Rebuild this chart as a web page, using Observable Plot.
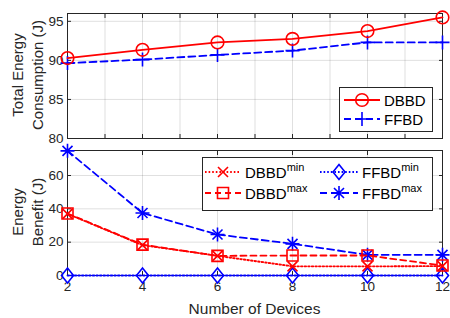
<!DOCTYPE html>
<html><head><meta charset="utf-8">
<script src="https://cdn.jsdelivr.net/npm/d3@7"></script>
<script src="https://cdn.jsdelivr.net/npm/@observablehq/plot@0.6"></script>
<style>
body{margin:0;background:#fff;}
#wrap{position:relative;width:450px;height:318px;font-family:"Liberation Sans",Arial,sans-serif;background:#fff;}
#wrap svg.plt{position:absolute;left:0;}
#overlay{position:absolute;left:0;top:0;pointer-events:none;}
</style></head><body>
<div id="wrap"></div>
<script>
// ---- data ----
const devices = [2, 4, 6, 8, 10, 12];
const dbbdTotal = [90.3, 91.35, 92.3, 92.75, 93.75, 95.5];
const ffbdTotal = [89.65, 90.1, 90.7, 91.25, 92.3, 92.3];
const dbbdMin = [37, 18.2, 11.8, 5.5, 5.5, 5.6];
const dbbdMax = [37.2, 18.5, 11.8, 12, 12, 6];
const ffbdMin = [0, 0, 0, 0, 0, 0];
const ffbdMax = [74.8, 37.5, 24.6, 19, 12.4, 12.4];
const topYTicks = [80, 85, 90, 95];
const botYTicks = [0, 20, 40, 60];
const topXTicks = [2, 3, 4, 5, 6, 7, 8, 9, 10, 11, 12];
const botXTicks = [2, 4, 6, 8, 10, 12];
const yLabelTop = ["Total Energy", "Consumption (J)"];
const yLabelBot = ["Energy", "Benefit (J)"];
const xLabel = "Number of Devices";

const RED = "#ff0000", BLUE = "#0000ff", AX = "#262626";
const DASH = "7,4", DOT = "1.6,2";

// MATLAB-like marker shapes
const sym = {
  circle: {draw(c){ c.moveTo(6.3,0); c.arc(0,0,6.3,0,2*Math.PI); }},
  plus: {draw(c){ c.moveTo(-7,0); c.lineTo(7,0); c.moveTo(0,-7); c.lineTo(0,7); }},
  times: {draw(c){ c.moveTo(-5,-5); c.lineTo(5,5); c.moveTo(-5,5); c.lineTo(5,-5); }},
  square: {draw(c){ c.rect(-5.5,-5.5,11,11); }},
  diamond: {draw(c){ c.moveTo(0,-7.5); c.lineTo(6,0); c.lineTo(0,7.5); c.lineTo(-6,0); c.closePath(); }},
  star: {draw(c){ c.moveTo(-7,0); c.lineTo(7,0); c.moveTo(0,-7); c.lineTo(0,7);
    c.moveTo(-5,-5); c.lineTo(5,5); c.moveTo(-5,5); c.lineTo(5,-5); }}
};

const rows = (ys) => devices.map((d, i) => ({x: d, y: ys[i]}));

function series(ys, color, dash, symbol) {
  const data = rows(ys);
  return [
    Plot.line(data, {x: "x", y: "y", stroke: color, strokeWidth: 1.8, strokeDasharray: dash}),
    Plot.dot(data, {x: "x", y: "y", stroke: color, strokeWidth: 1.6, fill: "none", symbol, r: 6})
  ];
}

function frameMarks(xTicks, yTicks, showXLabels) {
  return [
    Plot.gridX(xTicks, {stroke: AX, strokeOpacity: 0.14, strokeWidth: 1}),
    Plot.gridY(yTicks, {stroke: AX, strokeOpacity: 0.14, strokeWidth: 1}),
    Plot.frame({stroke: AX, strokeWidth: 1}),
    Plot.axisY(yTicks, {anchor: "left", tickSize: -4, tickPadding: 8, label: null, color: AX, fontSize: 13.5}),
    Plot.axisY(yTicks, {anchor: "right", tickSize: -4, tickFormat: () => "", label: null}),
    Plot.axisX(xTicks, {anchor: "bottom", tickSize: -4, tickPadding: 10, label: null, color: AX, fontSize: 13.5,
      tickFormat: showXLabels ? (d => String(d)) : () => ""}),
    Plot.axisX(xTicks, {anchor: "top", tickSize: -4, tickFormat: () => "", label: null})
  ];
}

const common = {
  width: 450, marginLeft: 67, marginRight: 8,
  style: {fontFamily: "'Liberation Sans', Arial, sans-serif", fontSize: "13.5px", color: AX, background: "none"}
};

const topChart = Plot.plot({
  ...common, height: 150, marginTop: 13, marginBottom: 12,
  x: {domain: [2, 12]}, y: {domain: [80, 96]},
  marks: [
    ...frameMarks(topXTicks, topYTicks, false),
    ...series(ffbdTotal, BLUE, DASH, sym.plus),
    ...series(dbbdTotal, RED, null, sym.circle)
  ]
});
const botChart = Plot.plot({
  ...common, height: 178, marginTop: 10, marginBottom: 43,
  x: {domain: [2, 12]}, y: {domain: [0, 75]},
  marks: [
    ...frameMarks(botXTicks, botYTicks, true),
    ...series(ffbdMin, BLUE, DOT, sym.diamond),
    ...series(ffbdMax, BLUE, DASH, sym.star),
    ...series(dbbdMax, RED, "6,4", sym.square),
    ...series(dbbdMin, RED, DOT, sym.times)
  ]
});
topChart.classList.add("plt"); botChart.classList.add("plt");
topChart.style.top = "0px"; botChart.style.top = "140px";
const wrap = document.getElementById("wrap");
wrap.appendChild(botChart); wrap.appendChild(topChart);

// ---- overlay: axis titles and legends ----
const ov = d3.select(wrap).append("svg").attr("id", "overlay").attr("width", 450).attr("height", 318)
  .style("font-family", "'Liberation Sans', Arial, sans-serif");

function yTitle(lines, cy) {
  const g = ov.append("g").attr("transform", `translate(28,${cy}) rotate(-90)`);
  lines.forEach((t, i) => g.append("text").attr("x", 0).attr("y", (i - 0.5) * 20 + 5)
    .attr("text-anchor", "middle").attr("font-size", 15).attr("fill", AX).text(t));
}
yTitle(yLabelTop, 75);
yTitle(yLabelBot, 212);
ov.append("text").attr("x", 254.5).attr("y", 314).attr("text-anchor", "middle")
  .attr("font-size", 15.5).attr("fill", AX).text(xLabel);

function symPath(s) { const p = d3.path(); s.draw(p); return p.toString(); }
function legendItem(x0, x1, y, color, dash, s, name, sup) {
  ov.append("line").attr("x1", x0).attr("x2", x1).attr("y1", y).attr("y2", y)
    .attr("stroke", color).attr("stroke-width", 1.8).attr("stroke-dasharray", dash);
  ov.append("path").attr("d", symPath(s)).attr("transform", `translate(${(x0 + x1) / 2},${y})`)
    .attr("fill", "none").attr("stroke", color).attr("stroke-width", 1.6);
  const t = ov.append("text").attr("x", x1 + 4).attr("y", y + 5.5).attr("font-size", 15).attr("fill", "#000");
  t.append("tspan").text(name);
  if (sup) t.append("tspan").attr("dy", -7).attr("font-size", 11).text(sup);
}
// top legend
ov.append("rect").attr("x", 339.5).attr("y", 87.5).attr("width", 93).attr("height", 44)
  .attr("fill", "white").attr("stroke", AX).attr("stroke-width", 1);
legendItem(344, 380, 100, RED, null, sym.circle, "DBBD");
legendItem(344, 380, 119, BLUE, DASH, sym.plus, "FFBD");
// bottom legend
ov.append("rect").attr("x", 202.5).attr("y", 157.5).attr("width", 230).attr("height", 53)
  .attr("fill", "white").attr("stroke", AX).attr("stroke-width", 1);
legendItem(205, 241, 172, RED, DOT, sym.times, "DBBD", "min");
legendItem(205, 241, 193, RED, "6,4", sym.square, "DBBD", "max");
legendItem(320, 358, 172, BLUE, DOT, sym.diamond, "FFBD", "min");
legendItem(320, 358, 193, BLUE, DASH, sym.star, "FFBD", "max");
</script>
</body></html>
